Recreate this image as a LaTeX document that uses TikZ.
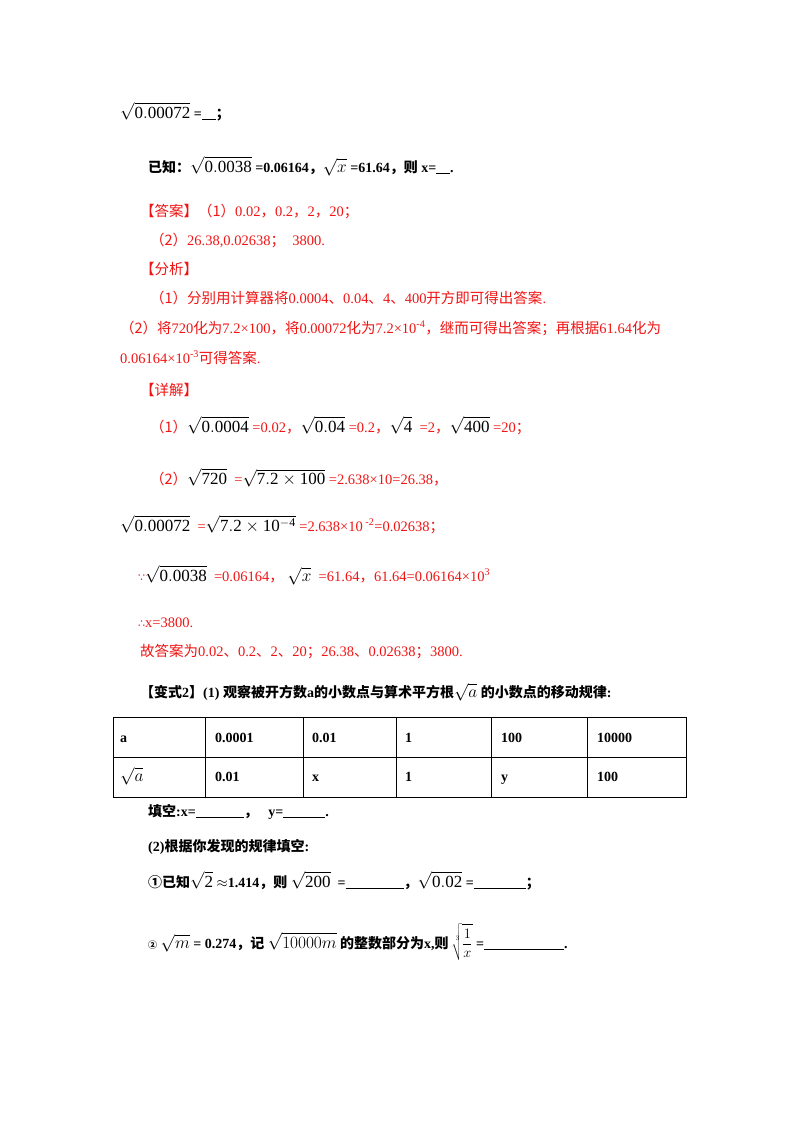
\documentclass[tikz,border=0pt]{standalone}
\usepackage{fontspec}
\setmainfont{Liberation Serif}
\newfontfamily\zhf{Noto Sans CJK SC}
\newfontfamily\djvfont{DejaVu Sans}
\newcommand{\zh}[1]{{\zhf #1}}
\definecolor{rd}{RGB}{240,20,20}
\newcommand{\R}[1]{\textcolor{black}{\fontsize{17}{19}\selectfont$\sqrt{\mathrm{#1}}$}}
\newcommand{\Rm}[1]{\textcolor{black}{\fontsize{17}{19}\selectfont$\sqrt{#1}$}}
\newcommand{\sps}[1]{\textsuperscript{#1}}
\begin{document}
\begin{tikzpicture}[x=1pt,y=-1pt,
  t/.style={anchor=base west,inner sep=0pt,font=\fontsize{14}{16}\selectfont},
  b/.style={t,font=\fontsize{14}{16}\selectfont\bfseries},
  r/.style={t,text=rd,font=\fontsize{14.5}{16}\selectfont},
  cell/.style={draw,line width=0.8pt}]
\useasboundingbox (0,0) rectangle (800,1132);
\node[b] (l1) at (120,118) {\R{0.00072} =\underline{\hspace{14pt}}\zh{；}};
\node[b] (l2) at (148,172) {\zh{已知：}\R{0.0038} =0.06164\zh{，}\Rm{x} =61.64\zh{，则} x=\underline{\hspace{14pt}}.};
\node[r] (l3) at (140,216) {\zh{【答案】（1）}0.02\zh{，}0.2\zh{，}2\zh{，}20\zh{；}};
\node[r] (l4) at (150,245) {\zh{（2）}26.38,0.02638\zh{；}\ \ 3800.};
\node[r] (l5) at (140,274) {\zh{【分析】}};
\node[r] (l6) at (150,303) {\zh{（1）分别用计算器将}0.0004\zh{、}0.04\zh{、}4\zh{、}400\zh{开方即可得出答案}.};
\node[r] (l7) at (120,333) {\zh{（2）将}720\zh{化为}7.2×100\zh{，将}0.00072\zh{化为}7.2×10\sps{-4}\zh{，继而可得出答案；再根据}61.64\zh{化为}};
\node[r] (l8) at (120,363) {0.06164×10\sps{-3}\zh{可得答案}.};
\node[r] (l9) at (140,395) {\zh{【详解】}};
\node[r] (l10) at (150,432) {\zh{（1）}\R{0.0004} =0.02\zh{，}\R{0.04} =0.2\zh{，}\R{4} \ =2\zh{，}\R{400} =20\zh{；}};
\node[r] (l11) at (150,484) {\zh{（2）}\R{720} \ =\R{7.2\times 100} =2.638×10=26.38\zh{，}};
\node[r] (l12) at (120,531) {\R{0.00072} \ =\R{7.2\times 10^{-4}} =2.638×10\sps{ -2}=0.02638\zh{；}};
\node[r] (l13) at (138,581) {{\djvfont\fontsize{11}{12}\selectfont ∵}\R{0.0038} \ =0.06164\zh{，}\ \Rm{x} \ =61.64\zh{，}61.64=0.06164×10\sps{3}};
\node[r] (l14) at (138,627) {{\djvfont\fontsize{11}{12}\selectfont ∴}x=3800.};
\node[r] (l15) at (140,656) {\zh{故答案为}0.02\zh{、}0.2\zh{、}2\zh{、}20\zh{；}26.38\zh{、}0.02638\zh{；}3800.};
\node[b] (l16) at (140,697) {\zh{【变式}2\zh{】}(1) \zh{\bfseries 观察被开方数}a\zh{\bfseries 的小数点与算术平方根}\Rm{a} \zh{\bfseries 的小数点的移动规律}:};
% table
\draw[cell] (113,717) rectangle (686,797);
\draw[cell] (113,757) -- (686,757);
\foreach \xx in {205,303,396,491,587} \draw[cell] (\xx,717) -- (\xx,797);
\node[b] (a0) at (120,742) {a};
\node[b] (a1) at (215,742) {0.0001};
\node[b] (a2) at (312,742) {0.01};
\node[b] (a3) at (405,742) {1};
\node[b] (a4) at (501,742) {100};
\node[b] (a5) at (597,742) {10000};
\node[b] (b0) at (120,781) {\Rm{a}};
\node[b] (b1) at (215,781) {0.01};
\node[b] (b2) at (312,781) {x};
\node[b] (b3) at (405,781) {1};
\node[b] (b4) at (501,781) {y};
\node[b] (b5) at (597,781) {100};
\node[b] (l17) at (148,816) {\zh{\bfseries 填空}:x=\underline{\hspace{48pt}}\zh{，}\ \ \ y=\underline{\hspace{42pt}}.};
\node[b] (l18) at (148,851) {(2)\zh{\bfseries 根据你发现的规律填空}:};
\node[b] (l19) at (148,887) {\zh{①}\zh{\bfseries 已知}\R{2} $\approx$1.414\zh{，则} \R{200} \ =\underline{\hspace{58pt}}\zh{，}\R{0.02} =\underline{\hspace{52pt}}\zh{；}};
\node[b] (l20) at (148,948) {{\fontsize{9}{10}\selectfont\zh{②}} \Rm{m} = 0.274\zh{，记} \Rm{10000m} \zh{\bfseries 的整数部分为}x,\zh{则}\hspace{3pt}\textcolor{black}{\fontsize{15}{17}\selectfont$\displaystyle\sqrt[3]{\frac{1}{x}}$} =\underline{\hspace{80pt}}.};
\end{tikzpicture}
\end{document}
